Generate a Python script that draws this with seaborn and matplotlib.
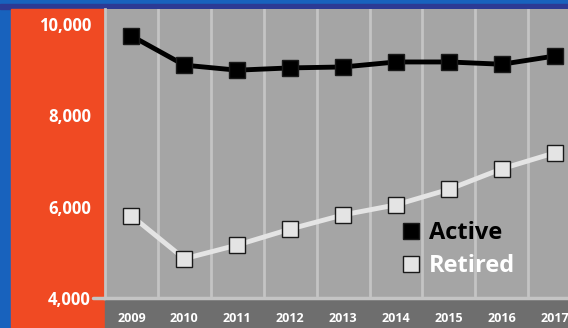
import matplotlib
matplotlib.use("Agg")
import matplotlib.pyplot as plt
from matplotlib.patches import Rectangle
from matplotlib.lines import Line2D
import pandas as pd
import seaborn as sns

years = [2009, 2010, 2011, 2012, 2013, 2014, 2015, 2016, 2017]
active = [9740, 9100, 8990, 9040, 9060, 9170, 9170, 9120, 9300]
retired = [5800, 4860, 5160, 5510, 5820, 6040, 6380, 6830, 7180]
y_ticks = [4000, 6000, 8000, 10000]

df = pd.DataFrame({
    "year": years * 2,
    "value": active + retired,
    "status": ["Active"] * len(years) + ["Retired"] * len(years),
})

sns.set_theme(style="white")
plt.rcParams["font.family"] = ["Open Sans", "DejaVu Sans"]

W, H = 568, 328
fig = plt.figure(figsize=(W / 100, H / 100), dpi=100)
fig.patch.set_facecolor("#1862bd")

# background panels (behind the axes)
fig.patches.append(Rectangle((0, 1 - 9 / H), 1, 5 / H, transform=fig.transFigure,
                             color="#2c3a94", zorder=-5))
fig.patches.append(Rectangle((11 / W, 0), 94 / W, 1 - 9 / H, transform=fig.transFigure,
                             color="#f04a23", zorder=-5))
fig.patches.append(Rectangle((105 / W, 0), 1, 30 / H, transform=fig.transFigure,
                             color="#6e6e6e", zorder=-5))

ax = fig.add_axes([105 / W, 30 / H, (W - 105) / W, (298 - 9) / H])
ax.set_facecolor("#a5a5a5")

grid_c = "#c4c4c4"
sns.lineplot(data=df, x="year", y="value", hue="status",
             palette={"Active": "black", "Retired": "#e4e4e4"},
             marker="s", markersize=11, markeredgecolor="#1a1a1a", markeredgewidth=1,
             linewidth=3.5, legend=False, ax=ax, zorder=5)

ax.set_xlim(2008.5, 2017.25)
ax.set_ylim(4000, 10330)

ax.set_xticks(years)
ax.set_xticklabels([str(y) for y in years])
ax.set_xticks([y + 0.5 for y in years[:-1]], minor=True)
ax.grid(True, which="minor", axis="x", color=grid_c, linewidth=2)
ax.grid(False, which="major")
ax.set_yticks(y_ticks)
ax.set_yticklabels([f"{v:,}" for v in y_ticks])

ax.tick_params(axis="x", which="major", length=0, pad=10, labelsize=9, labelcolor="white")
ax.tick_params(axis="x", which="minor", length=0)
ax.tick_params(axis="y", direction="in", length=12, width=2, color=grid_c,
               pad=10, labelsize=12, labelcolor="white")
for lbl in ax.get_xticklabels() + ax.get_yticklabels():
    lbl.set_fontweight("bold")

for s in ["top", "right"]:
    ax.spines[s].set_visible(False)
ax.spines["left"].set_color(grid_c)
ax.spines["left"].set_linewidth(2)
ax.spines["bottom"].set_color(grid_c)
ax.spines["bottom"].set_linewidth(2.5)
ax.axhline(4000, xmin=-12 / (W - 105), xmax=0, color=grid_c, linewidth=2.5, clip_on=False)

ax.set_xlabel("")
ax.set_ylabel("")

handles = [
    Line2D([], [], linestyle="none", marker="s", markersize=11.5,
           markerfacecolor="black", markeredgecolor="#1a1a1a"),
    Line2D([], [], linestyle="none", marker="s", markersize=11.5,
           markerfacecolor="#e4e4e4", markeredgecolor="#1a1a1a"),
]
leg = ax.legend(handles, ["Active", "Retired"], loc="upper left",
                bbox_to_anchor=(0.595, 0.34), frameon=False, handlelength=0.8,
                handletextpad=0.35, labelspacing=0.4,
                prop={"size": 17, "weight": "bold"})
leg.get_texts()[0].set_color("black")
leg.get_texts()[1].set_color("white")

fig.savefig("out.png", dpi=100, facecolor=fig.get_facecolor())
